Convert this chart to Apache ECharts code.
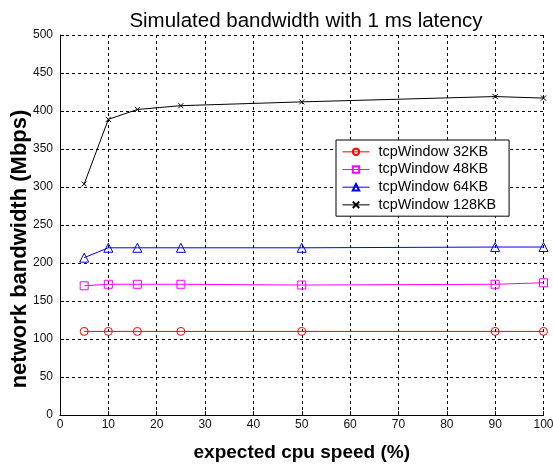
<!DOCTYPE html>
<html>
<head>
<meta charset="utf-8">
<script src="https://cdn.jsdelivr.net/npm/echarts@6/dist/echarts.min.js"></script>
<style>html,body{margin:0;padding:0;background:#fff}#c{width:553px;height:464px}</style>
</head>
<body>
<div id="c"></div>
<script>
// Data
var cpuSpeed = [5, 10, 16, 25, 50, 90, 100];
var win32 = [110, 110, 110, 110, 110, 110, 110];
var win48 = [170, 172, 172, 172, 171, 172, 174];
var win64 = [207, 220, 220, 220, 220, 221, 221];
var win128 = [304, 389, 402, 407, 412, 419, 417];
var seriesNames = ['tcpWindow 32KB', 'tcpWindow 48KB', 'tcpWindow 64KB', 'tcpWindow 128KB'];
var yTicks = {min: 0, max: 500, interval: 50};
var xTicks = {min: 0, max: 100, interval: 10};

function pairs(ys) { return cpuSpeed.map(function (x, i) { return [x, ys[i]]; }); }

var font = '"Liberation Sans", Arial, sans-serif';
var chart = echarts.init(document.getElementById('c'), null, {renderer: 'canvas'});

function mk(name, data, color, symbol, size) {
  return {
    name: name, type: 'line', data: pairs(data),
    symbol: symbol, symbolSize: size, showSymbol: true,
    lineStyle: {color: color, width: 1},
    itemStyle: {color: 'transparent', borderColor: color, borderWidth: 1},
    emphasis: {disabled: true},
    animation: false
  };
}

chart.setOption({
  animation: false,
  backgroundColor: '#fff',
  title: {
    text: 'Simulated bandwidth with 1 ms latency',
    left: 301, top: 6, textAlign: 'center',
    textStyle: {fontFamily: font, fontSize: 20.5, fontWeight: 'normal', color: '#000'}
  },
  grid: {left: 60, right: 9.5, top: 35, bottom: 49, containLabel: false, outerBoundsMode: 'none'},
  legend: {
    orient: 'vertical', left: 336, top: 140,
    padding: [3, 13, 2.5, 6],
    backgroundColor: '#fff', borderColor: '#000', borderWidth: 1,
    itemWidth: 27, itemHeight: 8, itemGap: 0,
    lineStyle: {width: 1},
    textStyle: {fontFamily: font, fontSize: 14.4, color: '#000', lineHeight: 17.67, padding: [0, 0, 0, 4]},
    data: seriesNames, z: 10
  },
  xAxis: {
    type: 'value', min: xTicks.min, max: xTicks.max, interval: xTicks.interval,
    name: 'expected cpu speed (%)', nameLocation: 'middle', nameGap: 28,
    nameTextStyle: {fontFamily: font, fontSize: 19, fontWeight: 'bold', color: '#000'},
    axisLine: {show: true, lineStyle: {color: '#000', width: 1}},
    axisTick: {show: true, inside: true, length: 4, lineStyle: {color: '#000'}},
    axisLabel: {fontFamily: font, fontSize: 12, color: '#111', margin: 4},
    splitLine: {show: true, lineStyle: {color: '#000', type: [3, 3], width: 1}}
  },
  yAxis: {
    type: 'value', min: yTicks.min, max: yTicks.max, interval: yTicks.interval,
    name: 'network bandwidth (Mbps)', nameLocation: 'middle', nameGap: 29, nameMoveOverlap: false,
    nameTextStyle: {fontFamily: font, fontSize: 22, fontWeight: 'bold', color: '#000', padding: [0, 48, 0, 0]},
    axisLine: {show: true, lineStyle: {color: '#000', width: 1}},
    axisTick: {show: true, inside: true, length: 4, lineStyle: {color: '#000'}},
    axisLabel: {fontFamily: font, fontSize: 12, color: '#111', margin: 7},
    splitLine: {show: true, lineStyle: {color: '#000', type: [3, 3], width: 1}}
  },
  series: [
    mk(seriesNames[0], win32, '#ff0000', 'circle', 8),
    mk(seriesNames[1], win48, '#ff00ff', 'rect', 8),
    mk(seriesNames[2], win64, '#0000ff', 'triangle', 9),
    mk(seriesNames[3], win128, '#000000', 'path://M0,0L10,10M10,0L0,10', 5)
  ]
});
</script>
</body>
</html>
